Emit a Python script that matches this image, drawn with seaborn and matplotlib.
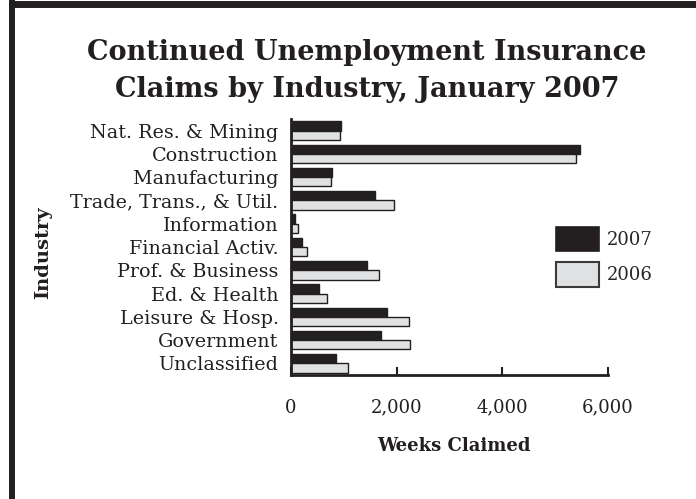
import matplotlib
matplotlib.use("Agg")
import matplotlib.pyplot as plt
import matplotlib.lines as mlines
import matplotlib.patches as mpatches
import pandas as pd
import seaborn as sns

# Datos (semanas reclamadas).
industrias = [
    "Nat. Res. & Mining", "Construction", "Manufacturing",
    "Trade, Trans., & Util.", "Information", "Financial Activ.",
    "Prof. & Business", "Ed. & Health", "Leisure & Hosp.",
    "Government", "Unclassified",
]
claims_2007 = [955, 5478, 767, 1585, 82, 208, 1446, 522, 1818, 1705, 855]
claims_2006 = [925, 5390, 760, 1943, 132, 295, 1673, 685, 2233, 2245, 1082]
anios = ["2007", "2006"]
x_ticks = [0, 2000, 4000, 6000]

OSCURO = "#231f20"
CLARO = "#e0e1e2"

sns.set_theme(style="white")
plt.rcParams["font.family"] = ["DejaVu Serif"]

df = pd.DataFrame({
    "industria": industrias * 2,
    "anio": ["2007"] * len(industrias) + ["2006"] * len(industrias),
    "semanas": claims_2007 + claims_2006,
})

fig = plt.figure(figsize=(6.96, 4.99), dpi=100)
ax = fig.add_axes([291 / 696, 1 - 375 / 499, 317 / 696, 256 / 499])

sns.barplot(
    data=df, y="industria", x="semanas", hue="anio",
    order=industrias, hue_order=anios,
    palette={"2007": OSCURO, "2006": CLARO},
    width=0.8, edgecolor=OSCURO, linewidth=1,
    errorbar=None, orient="h", ax=ax,
)

ax.set_xlim(0, 6000)
ax.set_xticks(x_ticks)
ax.set_xticklabels([f"{v:,}" for v in x_ticks])
ax.tick_params(axis="x", bottom=True, direction="in", length=6, width=1.5, color=OSCURO,
               pad=17, labelsize=13, labelcolor=OSCURO)
ax.tick_params(axis="y", length=0, pad=9, labelsize=13.8, labelcolor=OSCURO)

for lado in ["top", "right"]:
    ax.spines[lado].set_visible(False)
for lado in ["left", "bottom"]:
    ax.spines[lado].set_color(OSCURO)
    ax.spines[lado].set_linewidth(2)

ax.set_xlabel("Weeks Claimed", fontsize=13, fontweight="bold", color=OSCURO)
ax.xaxis.set_label_coords(454 / 696, 1 - 437 / 499, transform=fig.transFigure)
ax.set_ylabel("Industry", fontsize=14, fontweight="bold", color=OSCURO)
ax.yaxis.set_label_coords(52 / 696, 1 - 253 / 499, transform=fig.transFigure)

handles = [
    mpatches.Patch(facecolor=OSCURO, edgecolor=OSCURO, linewidth=1.2, label="2007"),
    mpatches.Patch(facecolor=CLARO, edgecolor="#3a3a3a", linewidth=1.5, label="2006"),
]
ax.legend(handles=handles, loc="upper left",
          bbox_to_anchor=(556 / 696, 1 - 227 / 499), bbox_transform=fig.transFigure,
          frameon=False, fontsize=13, handlelength=2.4, handleheight=1.7,
          borderpad=0, borderaxespad=0, labelspacing=0.6, handletextpad=0.4)

fig.text(367 / 696, 1 - 52 / 499, "Continued Unemployment Insurance",
         ha="center", va="center", fontsize=19.5, fontweight="bold", color=OSCURO)
fig.text(367 / 696, 1 - 89 / 499, "Claims by Industry, January 2007",
         ha="center", va="center", fontsize=19.5, fontweight="bold", color=OSCURO)

# Marco superior e izquierdo de la figura.
fig.add_artist(mlines.Line2D([9 / 696, 1], [1 - 3.5 / 499, 1 - 3.5 / 499],
                             transform=fig.transFigure, color=OSCURO, linewidth=5,
                             solid_capstyle="butt"))
fig.add_artist(mlines.Line2D([12 / 696, 12 / 696], [0, 1],
                             transform=fig.transFigure, color=OSCURO, linewidth=4.3,
                             solid_capstyle="butt"))

fig.savefig("out.png", dpi=100, facecolor="white")
